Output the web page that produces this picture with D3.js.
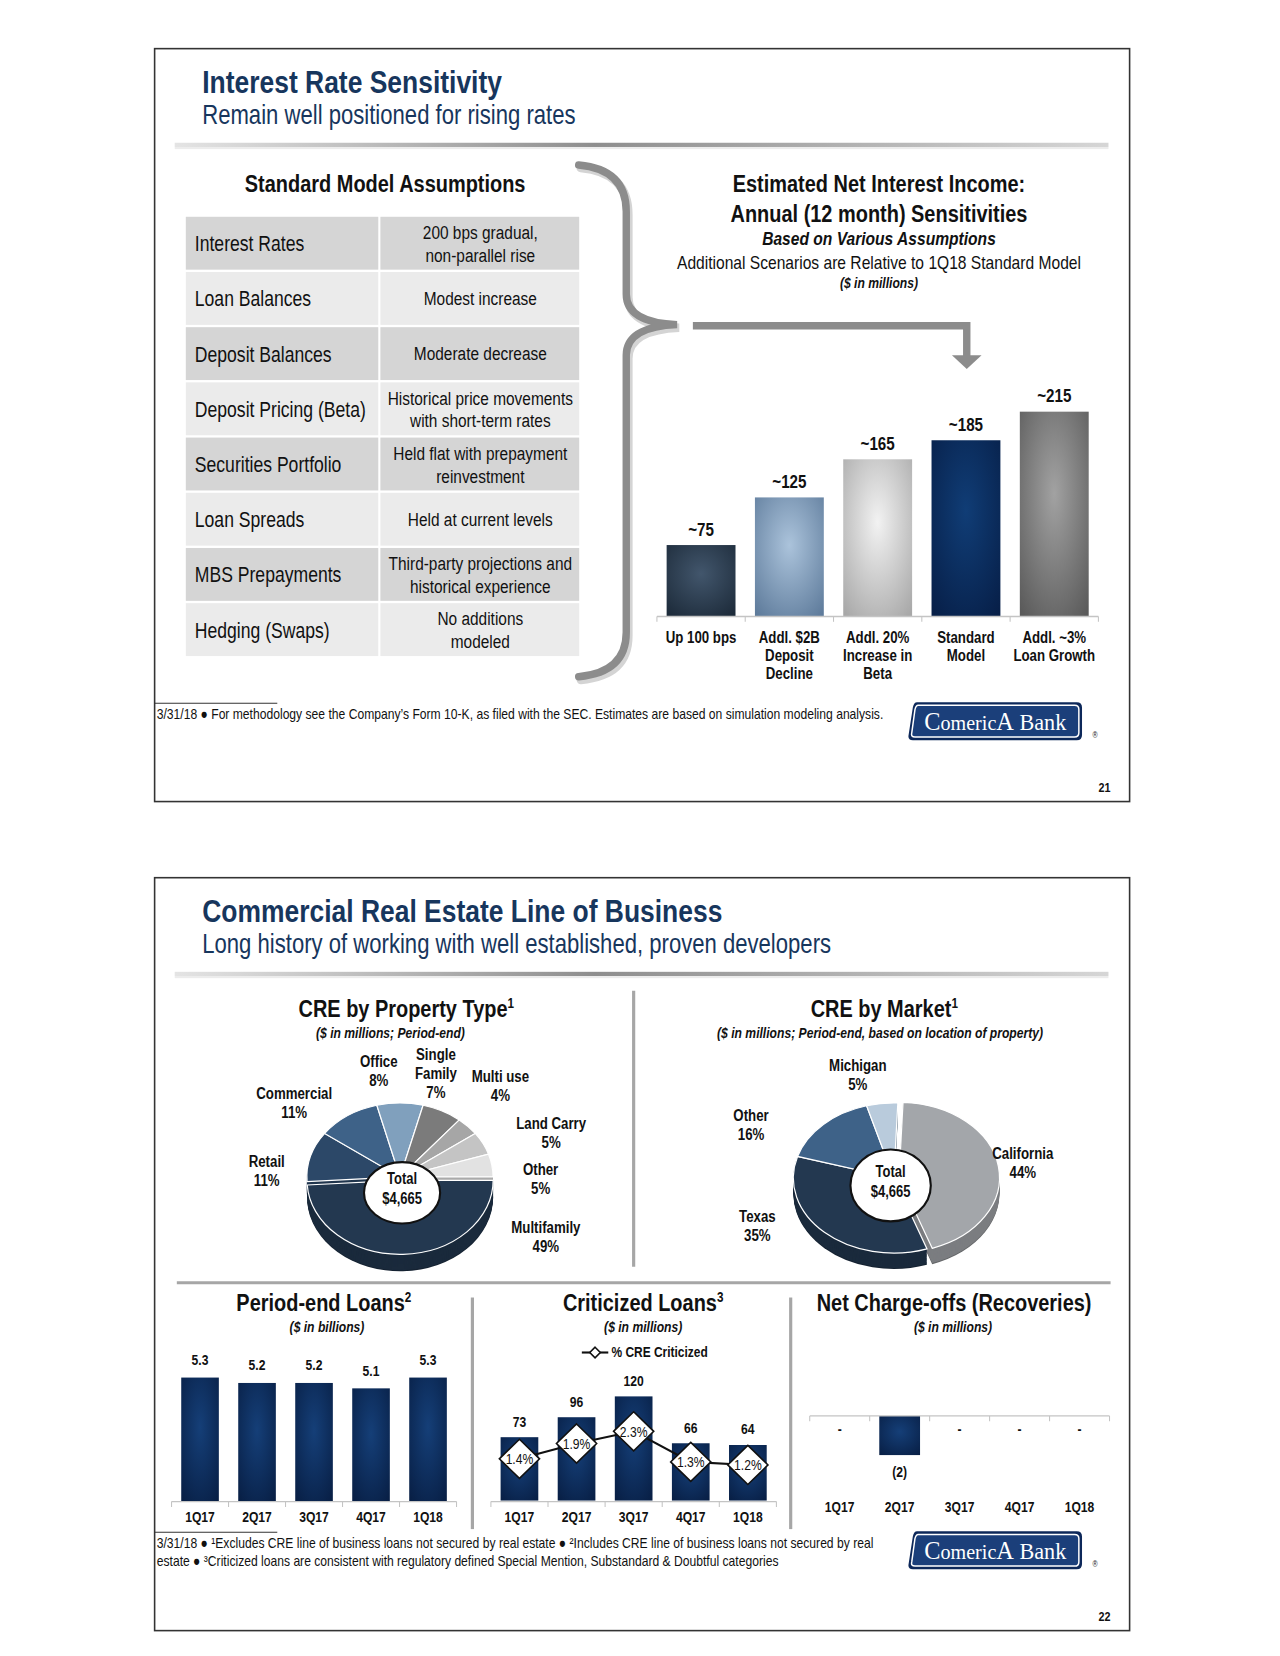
<!DOCTYPE html>
<html>
<head>
<meta charset="utf-8">
<script src="https://cdn.jsdelivr.net/npm/d3@7"></script>
<style>
  body { margin: 0; background: #fff; }
  svg text { font-family: "Liberation Sans", Arial, sans-serif; fill: #111; }
</style>
</head>
<body>
<svg id="page" width="1280" height="1656" viewBox="0 0 1210 1566"></svg>
<script>
// ---------- data ----------
var assumptionNames = ["Interest Rates", "Loan Balances", "Deposit Balances", "Deposit Pricing (Beta)",
  "Securities Portfolio", "Loan Spreads", "MBS Prepayments", "Hedging (Swaps)"];
var assumptionValues = [["200 bps gradual,", "non-parallel rise"], ["Modest increase"], ["Moderate decrease"],
  ["Historical price movements", "with short-term rates"], ["Held flat with prepayment", "reinvestment"],
  ["Held at current levels"], ["Third-party projections and", "historical experience"], ["No additions", "modeled"]];

var scenarioLabels = [["Up 100 bps"], ["Addl. $2B", "Deposit", "Decline"], ["Addl. 20%", "Increase in", "Beta"],
  ["Standard", "Model"], ["Addl. ~3%", "Loan Growth"]];
var scenarioValues = [75, 125, 165, 185, 215];

var propertyTypes = ["Multifamily", "Retail", "Commercial", "Office", "Single Family", "Multi use", "Land Carry", "Other"];
var propertyShares = [49, 11, 11, 8, 7, 4, 5, 5];

var markets = ["California", "Texas", "Other", "Michigan"];
var marketShares = [44, 35, 16, 5];

var quarters = ["1Q17", "2Q17", "3Q17", "4Q17", "1Q18"];
var periodEndLoans = [5.3, 5.2, 5.2, 5.1, 5.3];
var criticizedLoans = [73, 96, 120, 66, 64];
var pctCriticized = [1.4, 1.9, 2.3, 1.3, 1.2];
var netChargeOffs = [0, -2, 0, 0, 0];

// ---------- page setup ----------
var NAVY = "#17365d";
var SLIDE_H = 712;
var NARROW = 0.82;   // no narrow face installed: squeeze Liberation Sans instead
var svg = d3.select("#page");
var defs = svg.append("defs");

function radGrad(id, inner, outer) {
  var g = defs.append("radialGradient").attr("id", id)
    .attr("cx", "50%").attr("cy", "40%").attr("r", "75%");
  g.append("stop").attr("offset", "0%").attr("stop-color", inner);
  g.append("stop").attr("offset", "100%").attr("stop-color", outer);
}
radGrad("gb0", "#42566c", "#1c2a39");
radGrad("gb1", "#abc3db", "#5e7b9b");
radGrad("gb2", "#f2f2f2", "#a8a8a8");
radGrad("gb3", "#103d76", "#071f48");
radGrad("gb4", "#a2a2a2", "#5a5a5a");
radGrad("gnavy", "#153f78", "#081f45");

var rule = defs.append("linearGradient").attr("id", "rule");
rule.append("stop").attr("offset", "0%").attr("stop-color", "#e4e4e4");
rule.append("stop").attr("offset", "45%").attr("stop-color", "#8e8e8e");
rule.append("stop").attr("offset", "100%").attr("stop-color", "#d6d6d6");

function addLines(g, arr, x, y, lh) {
  var t = g.append("text").attr("x", x).attr("y", y);
  arr.forEach(function(s, i) {
    t.append("tspan").attr("x", x).attr("dy", i ? lh : 0).text(s);
  });
  return t;
}

function frame(y0, title, subtitle, page) {
  var g = svg.append("g");
  g.append("rect").attr("x", 146).attr("y", y0).attr("width", 922).attr("height", SLIDE_H)
    .attr("fill", "#fff").attr("stroke", "#333").attr("stroke-width", 1.5);
  g.append("text").attr("x", 191).attr("y", y0 + 42).attr("font-size", 30.5).attr("font-weight", "bold")
    .style("fill", NAVY).text(title);
  g.append("text").attr("x", 191).attr("y", y0 + 71).attr("font-size", 25.5)
    .style("fill", NAVY).text(subtitle);
  g.append("rect").attr("x", 165).attr("y", y0 + 89).attr("width", 883).attr("height", 4).attr("fill", "url(#rule)");
  g.append("rect").attr("x", 165).attr("y", y0 + 93).attr("width", 883).attr("height", 2).attr("fill", "#ececec");
  // footer rule
  g.append("line").attr("x1", 146).attr("x2", 262).attr("y1", y0 + 619).attr("y2", y0 + 619)
    .attr("stroke", "#333").attr("stroke-width", 1);
  // logo
  var lg = g.append("g").attr("transform", "translate(858," + (y0 + 618) + ")");
  lg.append("path").attr("d", "M9,0 H160 Q165,0 165,5 V31 Q165,36 160,36 H5 Q0,36 1,31 L5,5 Q6,0 9,0 Z")
    .attr("fill", "#0d285a");
  lg.append("path").attr("d", "M10,3 H158 Q162,3 162,7 V29 Q162,33 158,33 H7 Q3,33 4,29 L7,7 Q8,3 10,3 Z")
    .attr("fill", "#1b3f7a").attr("stroke", "#fff").attr("stroke-width", 1.4);
  var lt = lg.append("text").attr("class", "noscale").attr("x", 83).attr("y", 26).attr("text-anchor", "middle")
    .style("font-family", '"Liberation Serif", "DejaVu Serif", serif').style("fill", "#fff");
  lt.append("tspan").attr("font-size", 23).text("C");
  lt.append("tspan").attr("font-size", 19).text("omeric");
  lt.append("tspan").attr("font-size", 23).text("A");
  lt.append("tspan").attr("font-size", 21).text(" Bank");
  g.append("text").attr("x", 1033).attr("y", y0 + 652).attr("font-size", 8).text("®");
  g.append("text").attr("x", 1050).attr("y", y0 + 703).attr("font-size", 12.5).attr("font-weight", "bold")
    .attr("text-anchor", "end").text(page);
  return g;
}

// =================== SLIDE 1 ===================
var S1 = 46;
frame(S1, "Interest Rate Sensitivity", "Remain well positioned for rising rates", "21");

svg.append("text").attr("x", 364).attr("y", 182).attr("text-anchor", "middle")
  .attr("font-size", 23).attr("font-weight", "bold").text("Standard Model Assumptions");

var rowPitch = 52.2, rowH = 50, tableTop = 205;
var rows = svg.append("g").selectAll("g").data(assumptionNames).join("g")
  .attr("transform", function(d, i) { return "translate(0," + (tableTop + i * rowPitch) + ")"; });
rows.append("rect").attr("x", 175.5).attr("width", 182).attr("height", rowH)
  .attr("fill", function(d, i) { return i % 2 ? "#ebebeb" : "#d5d5d5"; });
rows.append("rect").attr("x", 359.5).attr("width", 188).attr("height", rowH)
  .attr("fill", function(d, i) { return i % 2 ? "#ebebeb" : "#d5d5d5"; });
rows.append("text").attr("x", 184).attr("y", rowH / 2 + 7.5).attr("font-size", 20.3).text(function(d) { return d; });
rows.each(function(d, i) {
  var v = assumptionValues[i];
  addLines(d3.select(this), v, 454, v.length === 1 ? rowH / 2 + 6.5 : rowH / 2 - 4, 21.5)
    .attr("font-size", 17.8).attr("text-anchor", "middle");
});

// brace + arrow
var braceG = svg.append("g").attr("fill", "none").attr("stroke-linecap", "round");
var braceD = "M547,156 Q592,160 592,200 L592,278 Q592,305 640,307 Q592,309 592,336 L592,598 Q592,636 547,640";
braceG.append("path").attr("d", braceD).attr("stroke", "#d4d4d4").attr("stroke-width", 8).attr("transform", "translate(2,3)");
braceG.append("path").attr("d", braceD).attr("stroke", "#8c8c8c").attr("stroke-width", 7);
var arrowG = svg.append("g");
arrowG.append("path").attr("d", "M655,308 H914 V337").attr("fill", "none")
  .attr("stroke", "#8c8c8c").attr("stroke-width", 7);
arrowG.append("path").attr("d", "M900,336 L928,336 L914,349 Z").attr("fill", "#8c8c8c");

// chart titles
var tx = 831;
svg.append("text").attr("x", tx).attr("y", 182).attr("text-anchor", "middle").attr("font-size", 23)
  .attr("font-weight", "bold").text("Estimated Net Interest Income:");
svg.append("text").attr("x", tx).attr("y", 210).attr("text-anchor", "middle").attr("font-size", 23)
  .attr("font-weight", "bold").text("Annual (12 month) Sensitivities");
svg.append("text").attr("x", tx).attr("y", 232).attr("text-anchor", "middle").attr("font-size", 18)
  .attr("font-weight", "bold").attr("font-style", "italic").text("Based on Various Assumptions");
svg.append("text").attr("x", tx).attr("y", 254).attr("text-anchor", "middle").attr("font-size", 18)
  .text("Additional Scenarios are Relative to 1Q18 Standard Model");
svg.append("text").attr("x", tx).attr("y", 272).attr("text-anchor", "middle").attr("font-size", 14)
  .attr("font-weight", "bold").attr("font-style", "italic").text("($ in millions)");

var x1 = d3.scaleBand().domain(d3.range(scenarioValues.length)).range([621, 1038.5])
  .paddingInner(0.22).paddingOuter(0.11);
var y1 = d3.scaleLinear().domain([0, 215]).range([583, 389.3]);
var c1 = svg.append("g");
c1.selectAll("rect").data(scenarioValues).join("rect")
  .attr("x", function(d, i) { return x1(i); }).attr("width", x1.bandwidth())
  .attr("y", function(d) { return y1(d); }).attr("height", function(d) { return y1(0) - y1(d); })
  .attr("fill", function(d, i) { return "url(#gb" + i + ")"; });
c1.selectAll(".vl").data(scenarioValues).join("text").attr("class", "vl")
  .attr("x", function(d, i) { return x1(i) + x1.bandwidth() / 2; })
  .attr("y", function(d) { return y1(d) - 9; })
  .attr("text-anchor", "middle").attr("font-size", 17.5).attr("font-weight", "bold")
  .text(function(d) { return "~" + d; });
c1.append("line").attr("x1", 621).attr("x2", 1038.5).attr("y1", y1(0)).attr("y2", y1(0))
  .attr("stroke", "#c4c4c4").attr("stroke-width", 1.2);
c1.selectAll(".tk").data(d3.range(scenarioValues.length + 1)).join("line").attr("class", "tk")
  .attr("x1", function(i) { return 621 + i * x1.step(); }).attr("x2", function(i) { return 621 + i * x1.step(); })
  .attr("y1", y1(0)).attr("y2", y1(0) + 5).attr("stroke", "#c4c4c4");
scenarioLabels.forEach(function(l, i) {
  addLines(c1, l, x1(i) + x1.bandwidth() / 2, 608, 17)
    .attr("text-anchor", "middle").attr("font-size", 15.3).attr("font-weight", "bold");
});

svg.append("text").attr("x", 148).attr("y", S1 + 634).attr("font-size", 14)
  .text("3/31/18 \u25CF For methodology see the Company\u2019s Form 10-K, as filed with the SEC. Estimates are based on simulation modeling analysis.");

// =================== SLIDE 2 ===================
var S2 = 830;
frame(S2, "Commercial Real Estate Line of Business",
  "Long history of working with well established, proven developers", "22");

function sectionTitle(x, y, main, sup, sub, subX) {
  var t = svg.append("text").attr("x", x).attr("y", y).attr("text-anchor", "middle")
    .attr("font-size", 23).attr("font-weight", "bold");
  t.append("tspan").text(main);
  t.append("tspan").attr("font-size", 13.5).attr("dy", -9).text(sup);
  svg.append("text").attr("x", subX).attr("y", y + 19.5).attr("text-anchor", "middle")
    .attr("font-size", 14).attr("font-weight", "bold").attr("font-style", "italic").text(sub);
}

// separators
var sep = svg.append("g").attr("stroke", "#a6a6a6").attr("stroke-width", 3);
sep.append("line").attr("x1", 599).attr("x2", 599).attr("y1", 937).attr("y2", 1198);
sep.append("line").attr("x1", 167).attr("x2", 1050).attr("y1", 1213).attr("y2", 1213);
sep.append("line").attr("x1", 446.5).attr("x2", 446.5).attr("y1", 1227).attr("y2", 1446);
sep.append("line").attr("x1", 747.5).attr("x2", 747.5).attr("y1", 1227).attr("y2", 1446);

sectionTitle(384, 962, "CRE by Property Type", "1", "($ in millions; Period-end)", 369);
sectionTitle(836, 962, "CRE by Market", "1", "($ in millions; Period-end, based on location of property)", 832);

function pie3d(opt) {
  var g = svg.append("g");
  var arcs = d3.pie().sort(null).startAngle(opt.start).endAngle(opt.start + 2 * Math.PI)(opt.values);
  var k = opt.ry / opt.rx;
  var arc = d3.arc().innerRadius(0).outerRadius(opt.rx);
  for (var dz = opt.depth; dz >= 0; dz--) {
    var layer = g.append("g").attr("transform", "translate(" + opt.cx + "," + (opt.cy + dz) + ") scale(1," + k + ")");
    layer.selectAll("path").data(arcs).join("path")
      .attr("transform", function(d, i) {
        var e = opt.explode[i] || 0, m = (d.startAngle + d.endAngle) / 2;
        return "translate(" + (e * Math.sin(m)) + "," + (-e * Math.cos(m)) + ")";
      })
      .attr("d", arc)
      .attr("fill", function(d, i) {
        return dz === 0 ? opt.colors[i] : d3.color(opt.colors[i]).darker(dz === opt.depth ? 1.4 : 0.8);
      })
      .attr("stroke", dz === 0 ? "#fff" : "none").attr("stroke-width", 1.2)
      .attr("vector-effect", "non-scaling-stroke");
  }
  g.append("ellipse").attr("cx", opt.hole[0]).attr("cy", opt.hole[1]).attr("rx", opt.hole[2]).attr("ry", opt.hole[3])
    .attr("fill", "#fff").attr("stroke", "#111").attr("stroke-width", 2);
  addLines(g, ["Total", "$4,665"], opt.hole[0], opt.hole[1] - 8, 19)
    .attr("text-anchor", "middle").attr("font-size", 15).attr("font-weight", "bold");
  opt.names.forEach(function(n, i) {
    var p = opt.labels[i];
    addLines(g, [].concat(p[2], opt.values[i] + "%"), p[0], p[1], 18)
      .attr("text-anchor", "middle").attr("font-size", 15.3).attr("font-weight", "bold");
  });
}

pie3d({
  cx: 378, cy: 1113, rx: 88, ry: 70, depth: 16, start: Math.PI / 2,
  names: propertyTypes, values: propertyShares,
  colors: ["#233850", "#2c4868", "#3e6288", "#80a0bd", "#7b7b7b", "#a6a6a6", "#c4c4c4", "#e2e2e2"],
  explode: [4, 0, 0, 0, 0, 0, 0, 0],
  hole: [380, 1128, 36, 29],
  labels: [[516, 1166, ["Multifamily"]], [252, 1104, ["Retail"]], [278, 1039, ["Commercial"]],
    [358, 1009, ["Office"]], [412, 1002, ["Single", "Family"]], [473, 1023, ["Multi use"]],
    [521, 1068, ["Land Carry"]], [511, 1111, ["Other"]]]
});

pie3d({
  cx: 845, cy: 1114, rx: 95, ry: 71, depth: 15, start: 0.04,
  names: markets, values: marketShares,
  colors: ["#a3a6aa", "#233850", "#3e6288", "#b9cbdc"],
  explode: [5, 0, 0, 0],
  hole: [842, 1121, 38, 34],
  labels: [[967, 1096, ["California"]], [716, 1156, ["Texas"]], [710, 1060, ["Other"]], [811, 1013, ["Michigan"]]]
});

// ---- bottom charts ----
function quarterAxis(g, x, y, labelY) {
  g.append("line").attr("x1", x.range()[0]).attr("x2", x.range()[1]).attr("y1", y).attr("y2", y)
    .attr("stroke", "#c4c4c4").attr("stroke-width", 1.2);
  g.selectAll(".tk").data(d3.range(quarters.length + 1)).join("line").attr("class", "tk")
    .attr("x1", function(i) { return x.range()[0] + i * x.step(); })
    .attr("x2", function(i) { return x.range()[0] + i * x.step(); })
    .attr("y1", y).attr("y2", y + 5).attr("stroke", "#c4c4c4");
  g.selectAll(".ql").data(quarters).join("text").attr("class", "ql")
    .attr("x", function(d) { return x(d) + x.bandwidth() / 2; }).attr("y", labelY)
    .attr("text-anchor", "middle").attr("font-size", 14).attr("font-weight", "bold").text(function(d) { return d; });
}

// Period-end loans
sectionTitle(306, 1240, "Period-end Loans", "2", "($ in billions)", 309);
var xL = d3.scaleBand().domain(quarters).range([162, 431.5]).paddingInner(0.34).paddingOuter(0.17);
var yL = d3.scaleLinear().domain([3, 5.5]).range([1420, 1292.5]);
var gL = svg.append("g");
gL.selectAll("rect").data(periodEndLoans).join("rect")
  .attr("x", function(d, i) { return xL(quarters[i]); }).attr("width", xL.bandwidth())
  .attr("y", function(d) { return yL(d); }).attr("height", function(d) { return yL(3) - yL(d); })
  .attr("fill", "url(#gnavy)");
gL.selectAll(".vl").data(periodEndLoans).join("text").attr("class", "vl")
  .attr("x", function(d, i) { return xL(quarters[i]) + xL.bandwidth() / 2; })
  .attr("y", function(d) { return yL(d) - 12; })
  .attr("text-anchor", "middle").attr("font-size", 14).attr("font-weight", "bold")
  .text(function(d) { return d.toFixed(1); });
quarterAxis(gL, xL, 1420, 1439);

// Criticized loans
sectionTitle(608, 1240, "Criticized Loans", "3", "($ in millions)", 608);
var xC = d3.scaleBand().domain(quarters).range([464, 734]).paddingInner(0.34).paddingOuter(0.17);
var yC = d3.scaleLinear().domain([0, 120]).range([1419, 1320.5]);
var yP = d3.scaleLinear().domain([0, 3]).range([1420, 1333.3]);
var gC = svg.append("g");
gC.selectAll("rect").data(criticizedLoans).join("rect")
  .attr("x", function(d, i) { return xC(quarters[i]); }).attr("width", xC.bandwidth())
  .attr("y", function(d) { return yC(d); }).attr("height", function(d) { return yC(0) - yC(d); })
  .attr("fill", "url(#gnavy)");
gC.selectAll(".vl").data(criticizedLoans).join("text").attr("class", "vl")
  .attr("x", function(d, i) { return xC(quarters[i]) + xC.bandwidth() / 2; })
  .attr("y", function(d) { return yC(d) - 10; })
  .attr("text-anchor", "middle").attr("font-size", 14).attr("font-weight", "bold").text(function(d) { return d; });
quarterAxis(gC, xC, 1420, 1439);
var pctLine = d3.line()
  .x(function(d, i) { return xC(quarters[i]) + xC.bandwidth() / 2; })
  .y(function(d) { return yP(d); });
gC.append("path").attr("d", pctLine(pctCriticized)).attr("fill", "none").attr("stroke", "#111").attr("stroke-width", 2);
var dia = gC.selectAll(".dm").data(pctCriticized).join("g").attr("class", "dm")
  .attr("transform", function(d, i) { return "translate(" + (xC(quarters[i]) + xC.bandwidth() / 2) + "," + yP(d) + ")"; });
dia.append("path").attr("d", "M0,-18.5 L19,0 L0,18.5 L-19,0 Z").attr("fill", "#fff").attr("stroke", "#111").attr("stroke-width", 1.5);
dia.append("text").attr("x", 0).attr("y", 5).attr("text-anchor", "middle").attr("font-size", 14)
  .text(function(d) { return d.toFixed(1) + "%"; });
// legend
gC.append("line").attr("x1", 550).attr("x2", 575).attr("y1", 1279).attr("y2", 1279).attr("stroke", "#111").attr("stroke-width", 2);
gC.append("path").attr("d", "M562.5,1274 L567.5,1279 L562.5,1284 L557.5,1279 Z").attr("fill", "#fff").attr("stroke", "#111").attr("stroke-width", 1.5);
gC.append("text").attr("x", 578).attr("y", 1283.5).attr("font-size", 13.8).attr("font-weight", "bold").text("% CRE Criticized");

// Net charge-offs
sectionTitle(902, 1240, "Net Charge-offs (Recoveries)", "", "($ in millions)", 901);
var xN = d3.scaleBand().domain(quarters).range([765.5, 1049]).paddingInner(0.32).paddingOuter(0.16);
var yN = d3.scaleLinear().domain([-2, 0]).range([1376, 1339]);
var gN = svg.append("g");
gN.selectAll("rect").data(netChargeOffs).join("rect")
  .attr("x", function(d, i) { return xN(quarters[i]); }).attr("width", xN.bandwidth())
  .attr("y", function(d) { return yN(Math.max(0, d)); })
  .attr("height", function(d) { return Math.abs(yN(d) - yN(0)); })
  .attr("fill", "url(#gnavy)");
quarterAxis(gN, xN, 1339, 1430);
gN.selectAll(".vl").data(netChargeOffs).join("text").attr("class", "vl")
  .attr("x", function(d, i) { return xN(quarters[i]) + xN.bandwidth() / 2; })
  .attr("y", function(d) { return yN(Math.min(0, d)) + (d < 0 ? 21 : 17); })
  .attr("text-anchor", "middle").attr("font-size", 14).attr("font-weight", "bold")
  .text(function(d) { return d === 0 ? "-" : d < 0 ? "(" + (-d) + ")" : d; });

// footnotes
addLines(svg, ["3/31/18 \u25CF \u00B9Excludes CRE line of business loans not secured by real estate \u25CF \u00B2Includes CRE line of business loans not secured by real",
  "estate \u25CF \u00B3Criticized loans are consistent with regulatory defined Special Mention, Substandard & Doubtful categories"],
  148, S2 + 634, 16.5).attr("font-size", 14);

// condense every text around its anchor point (Arial Narrow look)
svg.selectAll("text").filter(function() { return !this.classList.contains("noscale"); }).each(function() {
  var t = d3.select(this), x = +t.attr("x") || 0, y = +t.attr("y") || 0;
  t.attr("transform", "translate(" + x + "," + y + ") scale(" + NARROW + ",1) translate(" + (-x) + "," + (-y) + ")");
});
</script>
</body>
</html>
